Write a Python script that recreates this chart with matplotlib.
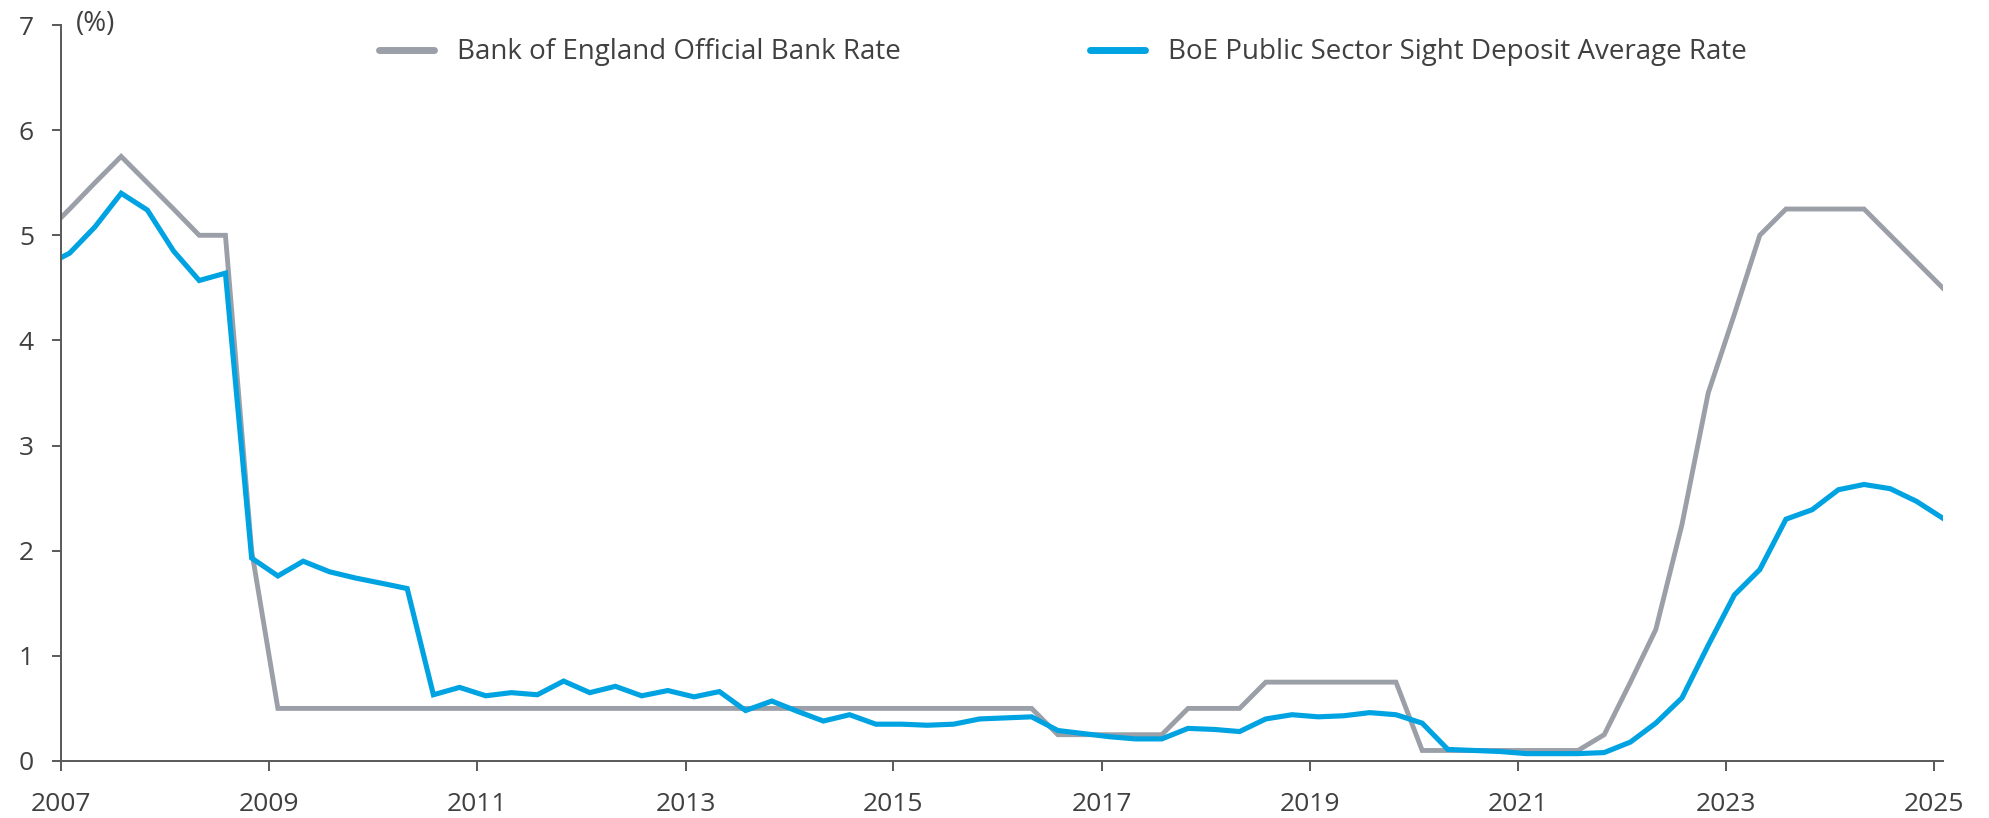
import matplotlib
matplotlib.use("Agg")
import matplotlib.pyplot as plt
import pandas as pd

# Quarterly observations (month ends Jan/Apr/Jul/Oct)
dates = pd.date_range("2006-10-31", periods=74, freq="3ME")

# Bank of England Official Bank Rate (%)
bank_rate = [
    5.0, 5.25, 5.5, 5.75, 5.5, 5.25, 5.0, 5.0, 2.0,
    0.5, 0.5, 0.5, 0.5, 0.5, 0.5, 0.5, 0.5, 0.5, 0.5,
    0.5, 0.5, 0.5, 0.5, 0.5, 0.5, 0.5, 0.5, 0.5, 0.5,
    0.5, 0.5, 0.5, 0.5, 0.5, 0.5, 0.5, 0.5, 0.5, 0.5,
    0.25, 0.25, 0.25, 0.25, 0.25,
    0.5, 0.5, 0.5,
    0.75, 0.75, 0.75, 0.75, 0.75, 0.75,
    0.1, 0.1, 0.1, 0.1, 0.1, 0.1, 0.1,
    0.25, 0.75, 1.25, 2.25, 3.5, 4.25, 5.0,
    5.25, 5.25, 5.25, 5.25, 5.0, 4.75, 4.5,
]

# BoE public sector sight deposit average rate (%)
sight_rate = [
    4.70, 4.83, 5.08, 5.40, 5.24, 4.85, 4.57, 4.64, 1.93,
    1.76, 1.90, 1.80, 1.74, 1.69, 1.64, 0.63, 0.70, 0.62, 0.65,
    0.63, 0.76, 0.65, 0.71, 0.62, 0.67, 0.61, 0.66, 0.48, 0.57,
    0.47, 0.38, 0.44, 0.35, 0.35, 0.34, 0.35, 0.40, 0.41, 0.42,
    0.29, 0.26, 0.23, 0.21, 0.21,
    0.31, 0.30, 0.28,
    0.40, 0.44, 0.42, 0.43, 0.46, 0.44,
    0.36, 0.11, 0.10, 0.09, 0.07, 0.07, 0.07,
    0.08, 0.18, 0.36, 0.60, 1.10, 1.58, 1.82,
    2.30, 2.39, 2.58, 2.63, 2.59, 2.47, 2.31,
]

tick_years = list(range(2007, 2026, 2))
y_ticks = list(range(0, 8))

GREY = "#9b9fa7"
BLUE = "#00a3e1"
TEXT = "#404040"
AXIS = "#595959"

plt.rcParams["font.family"] = ["Open Sans", "DejaVu Sans"]

fig = plt.figure(figsize=(19.89, 8.18), dpi=100)
ax = fig.add_axes([0.0307, 0.0697, 0.9460, 0.8997])

ax.plot(dates, bank_rate, color=GREY, lw=3.5, label="Bank of England Official Bank Rate",
        solid_joinstyle="miter")
ax.plot(dates, sight_rate, color=BLUE, lw=3.7, label="BoE Public Sector Sight Deposit Average Rate",
        solid_joinstyle="miter")

ax.set_xlim(pd.Timestamp("2007-01-01"), dates[-1])
ax.set_ylim(0, 7)
ax.set_xticks([pd.Timestamp(f"{y}-01-01") for y in tick_years])
ax.set_xticklabels([str(y) for y in tick_years])
ax.set_yticks(y_ticks)

for side in ["top", "right"]:
    ax.spines[side].set_visible(False)
for side in ["left", "bottom"]:
    ax.spines[side].set_color(AXIS)
    ax.spines[side].set_linewidth(1.4)

ax.tick_params(axis="both", colors=AXIS, width=1.4, labelcolor=TEXT, labelsize=19)
ax.tick_params(axis="x", length=7, pad=15)
ax.tick_params(axis="y", length=6.5, pad=13)

fig.text(0.038, 0.971, "(%)", color=TEXT, fontsize=20, va="center", ha="left")

leg = ax.legend(loc="center", bbox_to_anchor=(0.5344, 0.936), bbox_transform=fig.transFigure,
                ncol=2, frameon=False, fontsize=20, handlelength=2.0, handletextpad=0.83,
                columnspacing=6.8)
for line in leg.get_lines():
    line.set_linewidth(5)
    line.set_solid_capstyle("round")
for t in leg.get_texts():
    t.set_color(TEXT)

fig.savefig("out.png", dpi=100)
